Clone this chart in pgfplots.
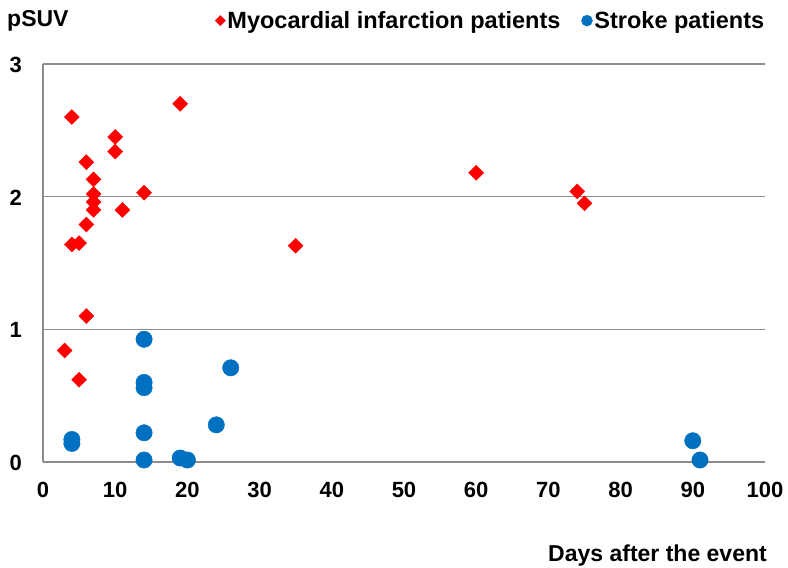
\documentclass[border=0pt]{standalone}
\usepackage{fontspec}
\setmainfont{Liberation Sans}
\usepackage{pgfplots}
\pgfplotsset{compat=1.18}
\definecolor{mired}{HTML}{FF0000}
\definecolor{skblue}{HTML}{0070C0}
\definecolor{gridgray}{HTML}{8C8C8C}
\begin{document}
\begin{tikzpicture}[x=1pt,y=1pt]
\useasboundingbox (0,0) rectangle (788,568);
\begin{axis}[at={(43pt,106pt)}, anchor=south west, scale only axis,
  width=722pt, height=398pt,
  xmin=0, xmax=100, ymin=0, ymax=3,
  xtick={0,10,...,100}, ytick={0,1,2,3},
  axis x line*=bottom, axis y line*=left,
  axis line style={gridgray, line width=1.4pt, -},
  ymajorgrids, grid style={gridgray, line width=1.4pt},
  major tick length=0pt,
  tick label style={font=\fontsize{22}{24}\selectfont\bfseries, inner sep=0pt},
  /pgf/number format/assume math mode=true,
  xticklabel style={anchor=base, yshift=-36pt},
  yticklabel style={anchor=base east, xshift=-21pt, yshift=-8.5pt},
  clip=false,
  legend columns=2,
  legend style={at={(axis description cs:1.002,1.109)}, anchor=east, draw=none, fill=none,
    inner sep=0pt, font=\fontsize{23.5}{25}\selectfont\bfseries,
    /tikz/every even column/.append style={column sep=19pt}},
  legend cell align=left,
  legend image code/.code={\draw[#1] plot coordinates {(0pt,0pt)};},
]
\addplot[only marks, mark=square*, mark size=5.3pt, mark options={rotate=45, fill=mired, draw=mired}, forget plot]
coordinates {
(4,2.60) (19,2.70) (10,2.45) (10,2.34) (6,2.26) (7,2.13) (7,2.02) (7,1.96) (7,1.90)
(11,1.90) (14,2.03) (6,1.79) (4,1.64) (5,1.65) (6,1.10) (3,0.84) (5,0.62)
(35,1.63) (60,2.18) (74,2.04) (75,1.95)
};
\addplot[only marks, mark=*, mark size=8.2pt, mark options={fill=skblue, draw=skblue}, forget plot]
coordinates {
(14,0.925) (14,0.60) (14,0.56) (26,0.71) (4,0.17) (4,0.14) (14,0.22) (24,0.28)
(14,0.015) (19,0.03) (20,0.015) (90,0.16) (91,0.015)
};
\addlegendimage{only marks, mark=square*, mark size=3.6pt, mark options={rotate=45, fill=mired, draw=mired}}
\addlegendentry{Myocardial infarction patients}
\addlegendimage{only marks, mark=*, mark size=5.5pt, mark options={fill=skblue, draw=skblue}}
\addlegendentry{Stroke patients}
\end{axis}
\node[anchor=base west, inner sep=0pt, font=\fontsize{23}{25}\selectfont\bfseries] at (7,541) {pSUV};
\node[anchor=base east, inner sep=0pt, font=\fontsize{23}{25}\selectfont\bfseries] at (767,6) {Days after the event};
\end{tikzpicture}
\end{document}
